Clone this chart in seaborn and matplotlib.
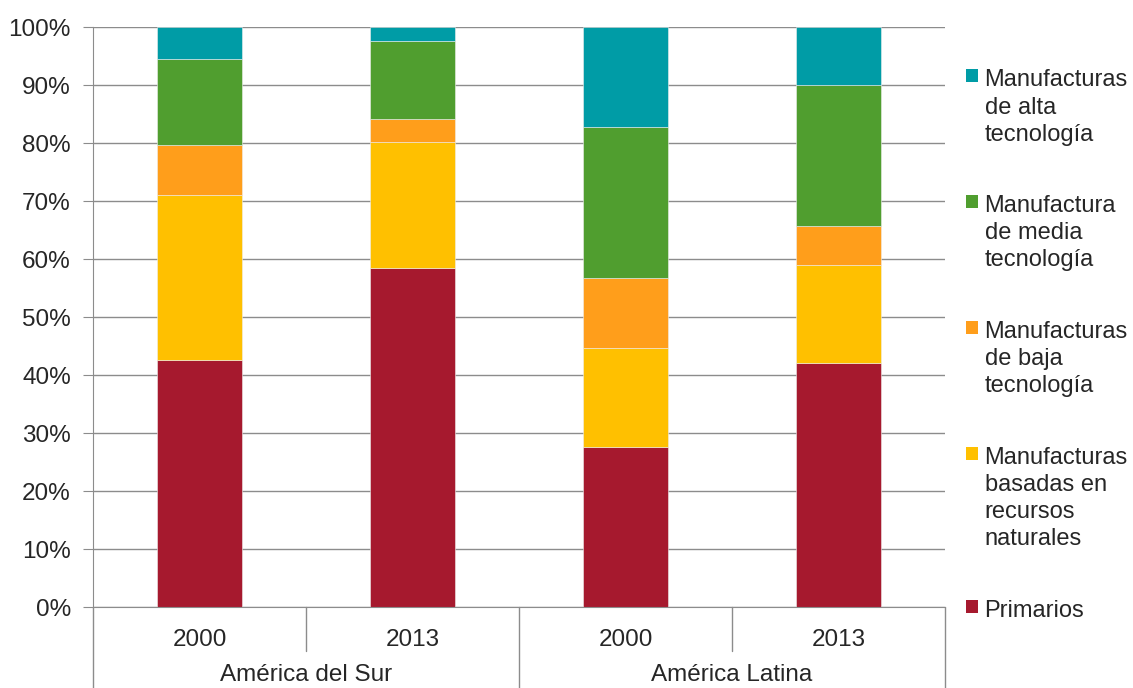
import matplotlib
matplotlib.use("Agg")
import matplotlib.pyplot as plt
import seaborn as sns
import numpy as np
from matplotlib.patches import Patch
from matplotlib.ticker import PercentFormatter

# Datos (porcentajes)
regions = ["América del Sur", "América Latina"]
years = ["2000", "2013", "2000", "2013"]
cats = ["Sur 2000", "Sur 2013", "Latina 2000", "Latina 2013"]

primarios = [42.6, 58.4, 27.6, 42.1]
recursos = [28.4, 21.8, 17.1, 16.9]
baja = [8.7, 3.9, 12.0, 6.7]
media = [14.8, 13.5, 26.1, 24.3]
alta = [5.5, 2.4, 17.2, 10.0]

series_names = ["Primarios",
                "Manufacturas\nbasadas en\nrecursos\nnaturales",
                "Manufacturas\nde baja\ntecnología",
                "Manufactura\nde media\ntecnología",
                "Manufacturas\nde alta\ntecnología"]
series_vals = [primarios, recursos, baja, media, alta]
colors = ["#A6192E", "#FFC000", "#FF9E1B", "#509E2F", "#009CA6"]

sns.set_style("white")
plt.rcParams["font.family"] = ["Liberation Sans", "DejaVu Sans"]

fig = plt.figure(figsize=(11.33, 6.88), dpi=100)
ax = fig.add_axes([93 / 1133, 81 / 688, 852 / 1133, 580 / 688])

grid_c = "#8c8c8c"
fs = 17.5
ax.set_axisbelow(True)
ax.yaxis.grid(True, color=grid_c, linewidth=1)

bottom = np.zeros(len(cats))
for vals, col in zip(series_vals, colors):
    sns.barplot(x=cats, y=vals, order=cats, bottom=bottom, color=col,
                width=0.4, edgecolor="#eeeeee", linewidth=0.4, ax=ax,
                saturation=1)
    bottom = bottom + np.array(vals)

ax.set_ylim(0, 100)
ax.set_xlim(-0.5, 3.5)
ax.set_yticks(np.arange(0, 101, 10))
ax.yaxis.set_major_formatter(PercentFormatter(decimals=0))
ax.set_xticks(range(len(cats)))
ax.set_xticklabels(years)
ax.tick_params(axis="y", left=True, length=7, color=grid_c, pad=9, labelsize=fs)
ax.tick_params(axis="x", bottom=False, pad=12, labelsize=fs)
ax.set_xlabel("")
ax.set_ylabel("")

for s in ["top", "right"]:
    ax.spines[s].set_visible(False)
ax.spines["left"].set_color(grid_c)
ax.spines["bottom"].set_color(grid_c)

# separadores del eje categórico de dos niveles
tr = ax.get_xaxis_transform()
for xpos in [-0.5, 0.5, 1.5, 2.5, 3.5]:
    low = -0.14 if xpos in (-0.5, 1.5, 3.5) else -0.076
    ax.plot([xpos, xpos], [0, low], color=grid_c, linewidth=1,
            transform=tr, clip_on=False)
for i, reg in enumerate(regions):
    ax.text(0.5 + 2 * i, -0.117, reg, transform=tr, ha="center", va="center",
            fontsize=fs)

handles = [Patch(facecolor=c, edgecolor="none") for c in colors][::-1]
leg = fig.legend(handles, series_names[::-1], loc="upper left",
                 bbox_to_anchor=(957 / 1133, 1 - 60 / 688), frameon=False,
                 fontsize=17, handlelength=0.47, handleheight=0.47,
                 handletextpad=0.3, labelspacing=2.1, borderaxespad=0)
for t in leg.get_texts():
    t.set_linespacing(1.3)
for col in leg._legend_handle_box.get_children():
    for hp in col.get_children():
        hp.align = "top"

fig.savefig("out.png", dpi=100)
